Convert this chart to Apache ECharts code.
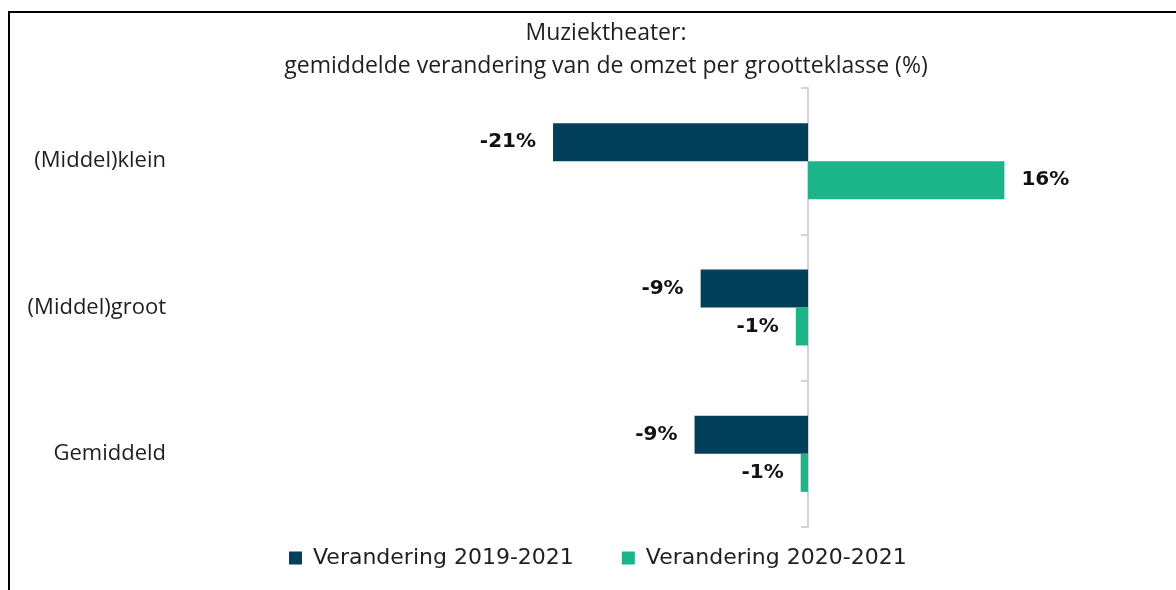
<!DOCTYPE html>
<html>
<head>
<meta charset="utf-8">
<style>
  html, body { margin: 0; padding: 0; background: #fff; }
  #chart { width: 1176px; height: 590px; }
</style>
<script src="https://cdn.jsdelivr.net/npm/echarts@6/dist/echarts.min.js"></script>
</head>
<body>
<div id="chart"></div>
<script>
// Categories (top to bottom) and the two series of turnover change (%)
const categories = ['(Middel)klein', '(Middel)groot', 'Gemiddeld'];
const change2019_2021 = [-20.9, -8.8, -9.3];
const change2020_2021 = [16.1, -1.0, -0.6];
const seriesNames = ['Verandering 2019-2021', 'Verandering 2020-2021'];
const titleLines = ['Muziektheater:', 'gemiddelde verandering van de omzet per grootteklasse (%)'];

const DARK = '#023F5A';
const GREEN = '#1CB58A';
const TEXT = '#1f1f1f';

const labelFont = {
  fontFamily: 'DejaVu Sans',
  fontWeight: 'bold',
  fontSize: 20,
  color: '#111'
};

// Each bar gets its label on the outer side of the bar
function withLabels(values) {
  return values.map(v => ({
    value: v,
    label: { position: v < 0 ? 'left' : 'right' }
  }));
}

const chart = echarts.init(document.getElementById('chart'), null, { renderer: 'canvas' });

chart.setOption({
  backgroundColor: '#ffffff',
  animation: false,
  title: {
    text: titleLines.join('\n'),
    left: 601,
    top: 12,
    textAlign: 'center',
    textStyle: {
      fontFamily: 'Open Sans',
      fontWeight: 'normal',
      fontSize: 23,
      lineHeight: 33,
      color: TEXT
    }
  },
  legend: {
    data: seriesNames,
    left: 284,
    top: 542,
    icon: 'rect',
    itemWidth: 13,
    itemHeight: 13,
    itemGap: 48,
    textStyle: {
      fontFamily: 'DejaVu Sans',
      fontSize: 22,
      color: TEXT,
      padding: [0, 0, 0, 6]
    }
  },
  grid: {
    left: 198,
    right: 2,
    top: 88,
    bottom: 63,
    containLabel: false
  },
  xAxis: {
    type: 'value',
    min: -50,
    max: 30,
    show: false,
    splitLine: { show: false }
  },
  yAxis: [
    {
      // category names at the left edge of the plot
      type: 'category',
      data: categories,
      inverse: true,
      position: 'left',
      axisLine: { show: false, onZero: false },
      axisTick: { show: false },
      axisLabel: {
        margin: 32,
        fontFamily: 'Open Sans',
        fontSize: 22,
        color: TEXT
      }
    },
    {
      // the zero line with its band ticks
      type: 'category',
      data: categories,
      inverse: true,
      position: 'left',
      axisLine: { show: true, onZero: true, lineStyle: { color: '#d3d3d3', width: 2 } },
      axisTick: { show: true, length: 7, lineStyle: { color: '#d3d3d3', width: 2 } },
      axisLabel: { show: false }
    }
  ],
  series: [
    {
      name: seriesNames[0],
      type: 'bar',
      yAxisIndex: 0,
      data: withLabels(change2019_2021),
      barWidth: 38,
      barGap: '0%',
      itemStyle: { color: DARK },
      label: Object.assign({ show: true, distance: 17, formatter: p => Math.round(p.value) + '%' }, labelFont)
    },
    {
      name: seriesNames[1],
      type: 'bar',
      yAxisIndex: 0,
      data: withLabels(change2020_2021),
      barWidth: 38,
      barGap: '0%',
      itemStyle: { color: GREEN },
      label: Object.assign({ show: true, distance: 17, formatter: p => Math.round(p.value) + '%' }, labelFont)
    }
  ],
  graphic: [
    {
      type: 'rect',
      silent: true,
      z: 100,
      shape: { x: 9, y: 12, width: 1300, height: 700 },
      style: { fill: null, stroke: '#000', lineWidth: 2 }
    }
  ]
});
</script>
</body>
</html>
